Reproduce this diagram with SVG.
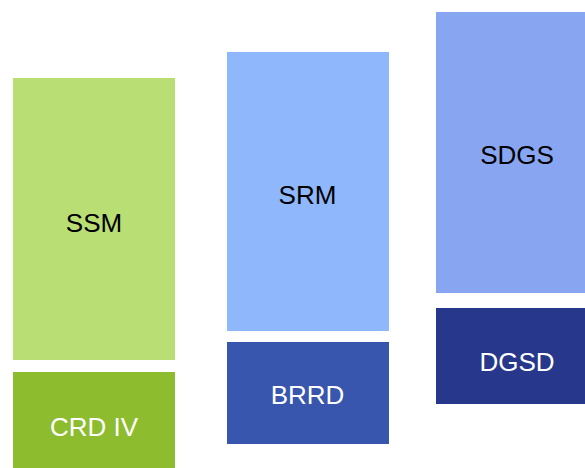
<svg xmlns="http://www.w3.org/2000/svg" width="585" height="468" viewBox="0 0 585 468">
<style>
text{font-family:"Liberation Sans",Arial,Helvetica,sans-serif;font-size:26px;text-anchor:middle}
.dk{fill:#000000}
.lt{fill:#ffffff}
</style>
<rect x="0" y="0" width="585" height="468" fill="#ffffff"/>
<g id="ssm"><rect x="13" y="78" width="162" height="282" fill="#b9de73"/><text class="dk" x="94" y="232">SSM</text></g>
<g id="crd4"><rect x="13" y="372" width="162" height="100" fill="#8dbd2f"/><text class="lt" x="94" y="436">CRD IV</text></g>
<g id="srm"><rect x="227" y="52" width="162" height="279" fill="#8fb7fb"/><text class="dk" x="307.5" y="204">SRM</text></g>
<g id="brrd"><rect x="227" y="342" width="162" height="102" fill="#3856ae"/><text class="lt" x="307.5" y="404">BRRD</text></g>
<g id="sdgs"><rect x="436" y="12" width="162" height="281" fill="#87a5f1"/><text class="dk" x="517" y="164">SDGS</text></g>
<g id="dgsd"><rect x="436" y="308" width="162" height="96" fill="#27378b"/><text class="lt" x="517" y="371">DGSD</text></g>
<g id="connectors"></g>
</svg>
